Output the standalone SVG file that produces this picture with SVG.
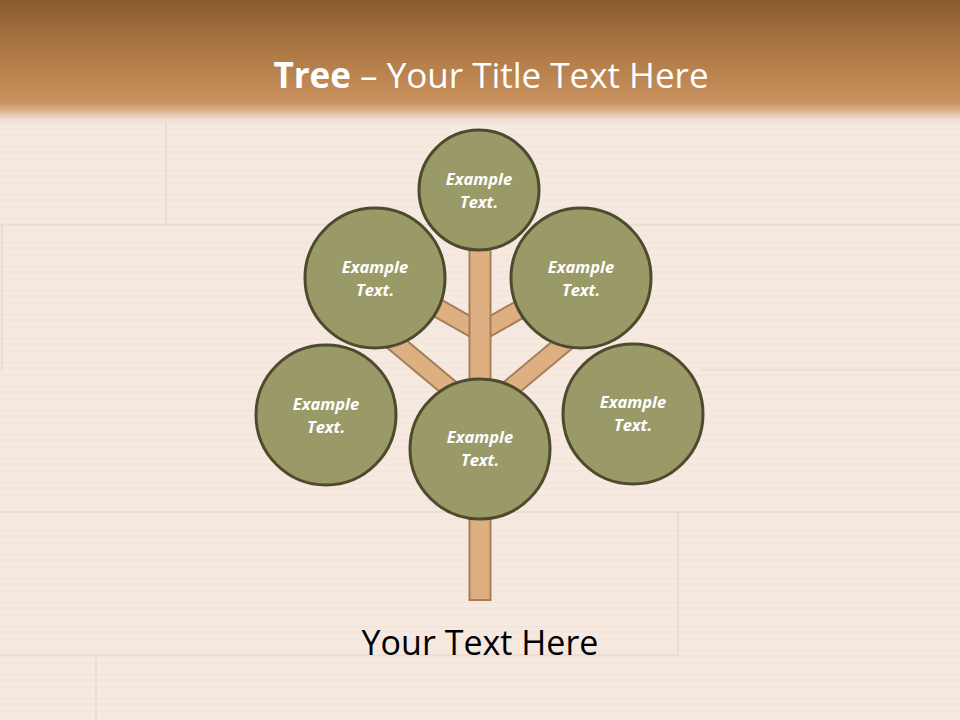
<svg xmlns="http://www.w3.org/2000/svg" width="960" height="720" viewBox="0 0 960 720">
<defs>
<linearGradient id="hdr" x1="0" y1="0" x2="0" y2="1">
<stop offset="0" stop-color="#8A5A2F"/>
<stop offset="0.45" stop-color="#B27C48"/>
<stop offset="0.8" stop-color="#C8915D"/>
<stop offset="0.86" stop-color="#D9B08A"/>
<stop offset="0.93" stop-color="#EEDDD0"/>
<stop offset="1" stop-color="#F5E9E0" stop-opacity="0"/>
</linearGradient>
<pattern id="grain" width="960" height="12" patternUnits="userSpaceOnUse">
<rect width="960" height="12" fill="#F5E9E0"/>
<line x1="0" y1="3" x2="960" y2="3" stroke="#EADBD1" stroke-width="1" opacity="0.5"/>
<line x1="0" y1="8" x2="960" y2="8" stroke="#EDE0D7" stroke-width="1" opacity="0.4"/>
</pattern>
<style>
.seam{stroke:#E0D4CD;stroke-width:1.2;fill:none}
.node circle{fill:#9A9A68;stroke:#4E4A2D;stroke-width:3}
.node text{font-family:"Open Sans","Liberation Sans",sans-serif;font-weight:bold;font-style:italic;font-size:16.5px;fill:#FFFFFF;text-anchor:middle}
.br-out{stroke:#A47D5A;stroke-width:20;stroke-linecap:butt}
.br-in{stroke:#DEAF80;stroke-width:16;stroke-linecap:butt}
</style>
</defs>
<rect width="960" height="720" fill="url(#grain)"/>
<g id="seams">
<line class="seam" x1="0" y1="225" x2="960" y2="225"/>
<line class="seam" x1="166" y1="112" x2="166" y2="225"/>
<line class="seam" x1="2" y1="225" x2="2" y2="370"/>
<line class="seam" x1="700" y1="370" x2="960" y2="370"/>
<line class="seam" x1="0" y1="512" x2="960" y2="512"/>
<line class="seam" x1="678" y1="512" x2="678" y2="657"/>
<line class="seam" x1="0" y1="655" x2="678" y2="655"/>
<line class="seam" x1="96" y1="655" x2="96" y2="720"/>
</g>
<rect width="960" height="128" fill="url(#hdr)"/>
<text x="491" y="88" font-family="Open Sans, Liberation Sans, sans-serif" font-size="35" fill="#FFFFFF" text-anchor="middle"><tspan font-weight="bold">Tree</tspan> – Your Title Text Here</text>
<g id="connectors">
<line class="br-out" x1="420" y1="298" x2="480" y2="332"/>
<line class="br-in" x1="420" y1="298" x2="480" y2="332"/>
<line class="br-out" x1="540" y1="298" x2="480" y2="332"/>
<line class="br-in" x1="540" y1="298" x2="480" y2="332"/>
<line class="br-out" x1="380" y1="330" x2="472" y2="407"/>
<line class="br-in" x1="380" y1="330" x2="472" y2="407"/>
<line class="br-out" x1="580" y1="330" x2="488" y2="407"/>
<line class="br-in" x1="580" y1="330" x2="488" y2="407"/>
<rect x="469.5" y="240" width="21" height="360" fill="#DEAF80" stroke="#A47D5A" stroke-width="2"/>
</g>
<g id="node-top" class="node"><circle cx="479" cy="190" r="60"/><text x="479" y="185">Example</text><text x="479" y="208">Text.</text></g>
<g id="node-upper-left" class="node"><circle cx="375" cy="278" r="70"/><text x="375" y="273">Example</text><text x="375" y="296">Text.</text></g>
<g id="node-upper-right" class="node"><circle cx="581" cy="278" r="70"/><text x="581" y="273">Example</text><text x="581" y="296">Text.</text></g>
<g id="node-lower-left" class="node"><circle cx="326" cy="415" r="70"/><text x="326" y="410">Example</text><text x="326" y="433">Text.</text></g>
<g id="node-center" class="node"><circle cx="480" cy="449" r="70"/><text x="480" y="443">Example</text><text x="480" y="466">Text.</text></g>
<g id="node-right" class="node"><circle cx="633" cy="414" r="70"/><text x="633" y="408">Example</text><text x="633" y="431">Text.</text></g>
<text x="480" y="655" font-family="Open Sans, Liberation Sans, sans-serif" font-size="34" fill="#000000" text-anchor="middle">Your Text Here</text>
</svg>
